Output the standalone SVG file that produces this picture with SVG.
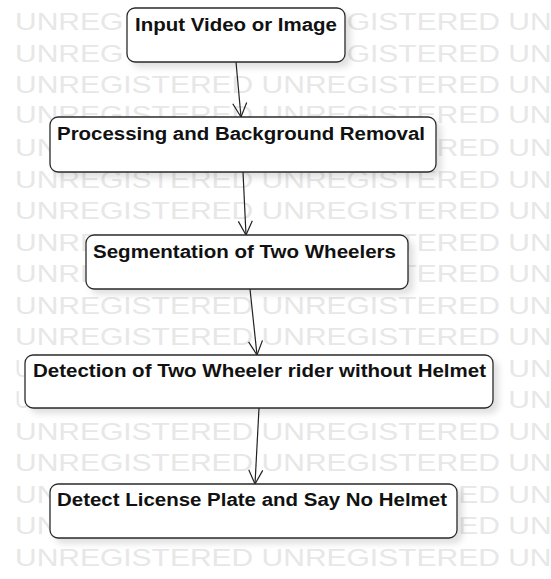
<svg xmlns="http://www.w3.org/2000/svg" width="551" height="579" viewBox="0 0 551 579">
  <style>
    .wm { font-family: "Liberation Sans", Arial, sans-serif; font-size: 24.5px; fill: #e7e7e7; }
    .box { fill: #ffffff; stroke: #2a2a2a; stroke-width: 1.3; filter: url(#shadow); }
    .label { font-family: "Liberation Sans", Arial, sans-serif; font-size: 17.5px; font-weight: bold; fill: #111111; }
    .edge { stroke: #222222; stroke-width: 1.2; fill: none; marker-end: url(#arrow); }
  </style>
  <defs>
    <filter id="shadow" x="-10%" y="-30%" width="125%" height="170%">
      <feDropShadow dx="5" dy="5" stdDeviation="3" flood-color="#000000" flood-opacity="0.12"/>
    </filter>
    <marker id="arrow" markerUnits="userSpaceOnUse" viewBox="0 0 16 16" markerWidth="16" markerHeight="16" refX="15" refY="8" orient="auto">
      <path d="M1,1 L15,8 L1,15" fill="none" stroke="#222222" stroke-width="1.2"/>
    </marker>
  </defs>

  <rect width="551" height="579" fill="#ffffff"/>

  <!-- watermark rows; the pieces that fall under the boxes are left out -->
  <g id="watermark" transform="translate(15 0) scale(1.2245 1)">
    <text class="wm" x="0" y="30.5">UNREG</text>
    <text class="wm" x="270.87" y="30.5">GISTERED UN</text>
    <text class="wm" x="0" y="62">UNREG</text>
    <text class="wm" x="270.87" y="62">GISTERED UN</text>
    <text class="wm" x="0" y="93.5">UNREGISTERED UNREGISTERED UN</text>
    <text class="wm" x="0" y="123.5">UNREGISTERED UNREGISTERED UN</text>
    <text class="wm" x="0" y="156.5">UN</text>
    <text class="wm" x="344.4" y="156.5">RED UN</text>
    <text class="wm" x="0" y="188">UNREGISTERED UNREGISTERED UN</text>
    <text class="wm" x="0" y="219.5">UNREGISTERED UNREGISTERED UN</text>
    <text class="wm" x="0" y="251">UNRE</text>
    <text class="wm" x="313.09" y="251">TERED UN</text>
    <text class="wm" x="0" y="282.5">UNRE</text>
    <text class="wm" x="313.09" y="282.5">TERED UN</text>
    <text class="wm" x="0" y="314">UNREGISTERED UNREGISTERED UN</text>
    <text class="wm" x="0" y="345.5">UNREGISTERED UNREGISTERED UN</text>
    <text class="wm" x="0" y="377" textLength="13" lengthAdjust="spacingAndGlyphs">U</text>
    <text class="wm" x="402.93" y="377">UN</text>
    <text class="wm" x="0" y="408.5" textLength="13" lengthAdjust="spacingAndGlyphs">U</text>
    <text class="wm" x="402.93" y="408.5">UN</text>
    <text class="wm" x="0" y="440">UNREGISTERED UNREGISTERED UN</text>
    <text class="wm" x="0" y="471.5">UNREGISTERED UNREGISTERED UN</text>
    <text class="wm" x="0" y="503">UN</text>
    <text class="wm" x="362.09" y="503">ED UN</text>
    <text class="wm" x="0" y="534.5">UN</text>
    <text class="wm" x="362.09" y="534.5">ED UN</text>
    <text class="wm" x="0" y="566">UNREGISTERED UNREGISTERED UN</text>
  </g>

  <!-- connectors -->
  <g id="connectors">
    <line class="edge" x1="236" y1="62" x2="241" y2="117"/>
    <line class="edge" x1="243" y1="172" x2="246" y2="235"/>
    <line class="edge" x1="250" y1="289" x2="257" y2="355"/>
    <line class="edge" x1="259" y1="408" x2="255" y2="484"/>
  </g>

  <!-- process steps -->
  <g id="input">
    <rect class="box" x="127" y="8" width="218" height="54" rx="8"/>
    <text class="label" x="135" y="31" textLength="202" lengthAdjust="spacingAndGlyphs">Input Video or Image</text>
  </g>
  <g id="preprocess">
    <rect class="box" x="50" y="117" width="386" height="55" rx="8"/>
    <text class="label" x="57" y="139.5" textLength="368" lengthAdjust="spacingAndGlyphs">Processing and Background Removal</text>
  </g>
  <g id="segmentation">
    <rect class="box" x="86" y="235" width="322" height="54" rx="8"/>
    <text class="label" x="93" y="258" textLength="303" lengthAdjust="spacingAndGlyphs">Segmentation of Two Wheelers</text>
  </g>
  <g id="detection">
    <rect class="box" x="25" y="355" width="468" height="53" rx="8"/>
    <text class="label" x="33" y="377" textLength="453" lengthAdjust="spacingAndGlyphs">Detection of Two Wheeler rider without Helmet</text>
  </g>
  <g id="plate">
    <rect class="box" x="50" y="484" width="407" height="54" rx="8"/>
    <text class="label" x="57" y="506" textLength="390" lengthAdjust="spacingAndGlyphs">Detect License Plate and Say No Helmet</text>
  </g>
</svg>
